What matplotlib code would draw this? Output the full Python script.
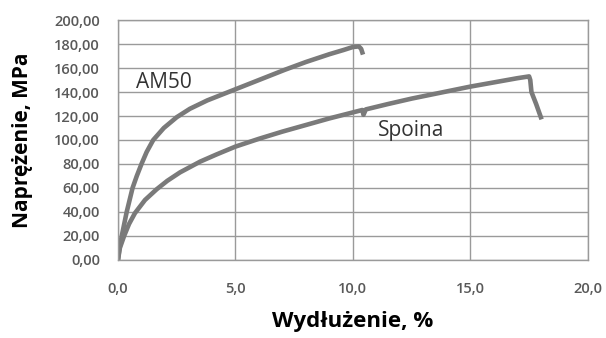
import matplotlib.pyplot as plt
from matplotlib.ticker import FuncFormatter

# AM50 curve (strain %, stress MPa)
am50_strain = [0, 0.05, 0.16, 0.37, 0.62, 0.8, 1.0, 1.22, 1.5, 1.95, 2.5, 3.06, 3.8, 4.77,
               6.0, 7.1, 8.0, 9.0, 9.6, 10.0, 10.25, 10.35, 10.4]
am50_stress = [0, 8, 20, 40, 60, 70, 80, 90, 100, 110, 119, 126, 133, 140.5,
               150, 158.5, 165, 171.5, 175, 177.5, 178, 176, 173]

# weld (Spoina) curve
spoina_strain = [0, 0.08, 0.26, 0.47, 0.72, 1.15, 1.65, 2.1, 2.64, 3.5, 4.2, 5.0, 6.0, 7.0, 8.0,
                 9.0, 10.0, 10.4, 10.45, 10.55, 11.5, 12.5, 13.5, 15.0, 16.0, 17.0,
                 17.5, 17.55, 17.6, 17.8, 18.0]
spoina_stress = [0, 10, 20, 30, 39, 50, 59, 66, 73, 82, 88, 94.5, 101, 107, 112.5,
                 118, 123, 125, 121, 125.5, 130, 134.5, 138.5, 144.5, 148, 151.5,
                 153, 150, 140, 130, 119]

x_ticks = [0, 5, 10, 15, 20]
y_ticks = [0, 20, 40, 60, 80, 100, 120, 140, 160, 180, 200]

plt.rcParams['font.family'] = ['Open Sans', 'DejaVu Sans']

fig = plt.figure(figsize=(6.06, 3.38), dpi=100)
ax = fig.add_axes([0.1947, 0.2308, 0.7753, 0.71])

line_col = '#7a7a7a'
ax.plot(am50_strain, am50_stress, color=line_col, lw=3.3, solid_joinstyle='round')
ax.plot(spoina_strain, spoina_stress, color=line_col, lw=3.3, solid_joinstyle='round')

ax.set_xlim(0, 20)
ax.set_ylim(0, 200)
ax.set_xticks(x_ticks)
ax.set_yticks(y_ticks)
ax.xaxis.set_major_formatter(FuncFormatter(lambda v, p: f"{v:.1f}".replace('.', ',')))
ax.yaxis.set_major_formatter(FuncFormatter(lambda v, p: f"{v:.2f}".replace('.', ',')))
ax.tick_params(length=0, labelsize=10.5, colors='#595959')
ax.tick_params(axis='x', pad=16)
ax.tick_params(axis='y', pad=13)
for lab in ax.get_xticklabels() + ax.get_yticklabels():
    lab.set_fontweight('semibold')

ax.grid(True, color='#9a9a9a', lw=1)
ax.set_axisbelow(True)
for s in ax.spines.values():
    s.set_color('#9a9a9a')
    s.set_linewidth(1)

ax.set_xlabel("Wydłużenie, %", fontsize=16, fontweight='bold')
ax.set_ylabel("Naprężenie, MPa", fontsize=15, fontweight='bold')
ax.xaxis.label.set_va('center')
ax.yaxis.label.set_va('center')
ax.xaxis.set_label_coords(0.5, -0.258)
ax.yaxis.set_label_coords(-0.204, 0.5)

ax.text(0.75, 148, "AM50", fontsize=15, color='#333333', va='center')
ax.text(11.05, 108, "Spoina", fontsize=15, color='#333333', va='center')

fig.savefig("out.png", dpi=100)
